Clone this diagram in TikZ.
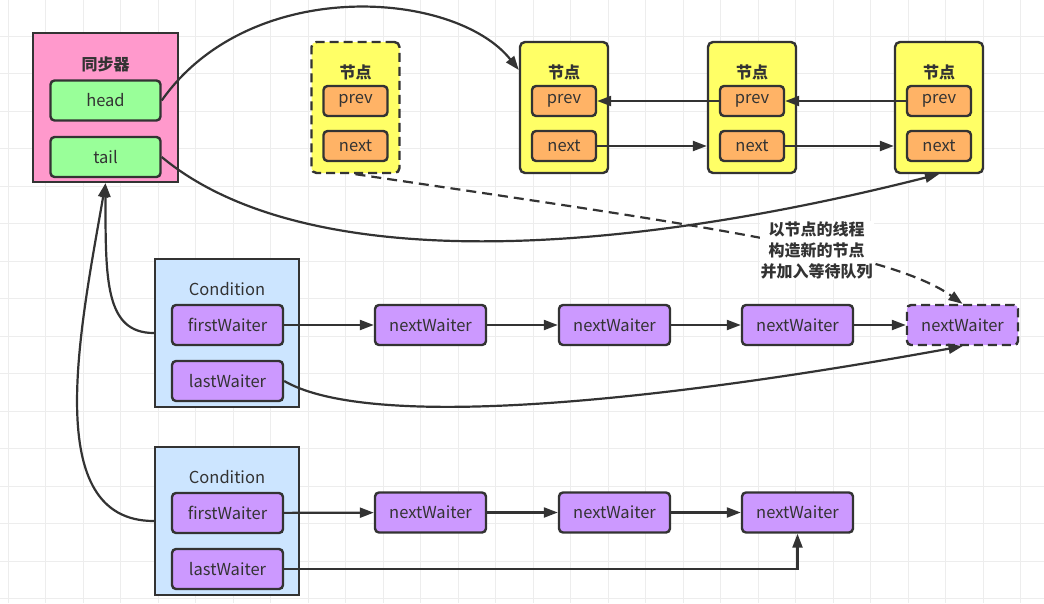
\documentclass[tikz,border=0pt]{standalone}
\usepackage{fontspec}
\setmainfont{Noto Sans CJK SC}
\usetikzlibrary{arrows.meta}
\definecolor{ink}{HTML}{333333}
\definecolor{gridc}{HTML}{EDEDED}
\definecolor{syncc}{HTML}{FF99CC}
\definecolor{ptrc}{HTML}{99FF99}
\definecolor{cardc}{HTML}{FFFF66}
\definecolor{fldc}{HTML}{FFB366}
\definecolor{condc}{HTML}{CCE5FF}
\definecolor{wtrc}{HTML}{CC99FF}
\tikzset{
  frame/.style={draw=ink,line width=2.4pt,inner sep=0pt},
  box/.style={draw=ink,line width=2.4pt,rounded corners=4pt,text=ink,
    font=\fontsize{16.5}{19}\selectfont,inner sep=0pt},
  ptr/.style={box,fill=ptrc,minimum width=110pt,minimum height=40pt},
  fld/.style={box,fill=fldc,minimum width=64pt,minimum height=30pt},
  wtr/.style={box,fill=wtrc,minimum width=111pt,minimum height=40pt},
  card/.style={frame,rounded corners=5pt,fill=cardc,minimum width=88pt,minimum height=131pt},
  hd/.style={text=ink,font=\bfseries\fontsize{16}{19}\selectfont},
  captxt/.style={text=ink,font=\fontsize{16.5}{19}\selectfont},
  link/.style={ink,line width=2.2pt,-{Triangle[length=14pt,width=10pt]}},
  dsh/.style={dash pattern=on 9pt off 5pt}
}
\begin{document}
\begin{tikzpicture}[x=1pt,y=-1pt]
\fill[white] (0,0) rectangle (1044,603);
\useasboundingbox (0,0) rectangle (1044,603);
% grid
\foreach \k in {0,...,27} \draw[gridc,line width=1pt] (8+37.5*\k,0) -- (8+37.5*\k,603);
\foreach \j in {1,...,16} \draw[gridc,line width=1pt] (0,-1.5+37.5*\j) -- (1044,-1.5+37.5*\j);

% synchronizer
\node[frame,fill=syncc,minimum width=145pt,minimum height=149pt] (sync) at (105.5,107.5) {};
\node[hd] (syncT) at (105.5,64) {同步器};
\node[ptr] (head) at (105.5,100.5) {head};
\node[ptr] (tail) at (105.5,157) {tail};

% queue nodes
\foreach \n/\x/\s in {n0/355.5/dsh,n1/564/solid,n2/752/solid,n3/939/solid} {
  \node[card,\s] (\n) at (\x,107.5) {};
  \node[hd] (\n-t) at (\x,72) {节点};
  \node[fld] (\n-p) at (\x,101) {prev};
  \node[fld] (\n-x) at (\x,146) {next};
}

% conditions
\foreach \c/\y in {c1/333,c2/521} {
  \node[frame,fill=condc,minimum width=144pt,minimum height=148pt] (\c) at (227,\y) {};
  \node[captxt] (\c-t) at (227,\y-44) {Condition};
  \node[wtr] (\c-f) at (227.5,\y-8) {firstWaiter};
  \node[wtr] (\c-l) at (227.5,\y+48) {lastWaiter};
}
\foreach \w/\x in {w11/430.5,w12/614.5,w13/797.5} \node[wtr] (\w) at (\x,325) {nextWaiter};
\node[wtr,dsh] (w14) at (962.5,325) {nextWaiter};
\foreach \w/\x in {w21/430.5,w22/614.5,w23/797.5} \node[wtr] (\w) at (\x,512.5) {nextWaiter};

% links between queue nodes
\draw[link] (n3-p) -- (n2-p);
\draw[link] (n2-p) -- (n1-p);
\draw[link] (n1-x.east) -- (n1-x.east -| n2.west);
\draw[link] (n2-x.east) -- (n2-x.east -| n3.west);
\draw[link] (head.east) .. controls (250,-25) and (455,-10) .. ([yshift=37.5pt]n1.west);
\draw[link] (tail.east) .. controls (300,272) and (600,260) .. (n3.south);
\draw[link,dash pattern=on 10pt off 6pt] (n0.south) .. controls (700,225) and (890,252) ..
  node[pos=0.6,fill=white,align=center,inner sep=1pt,hd,font=\bfseries\fontsize{16}{21}\selectfont] (note)
  {以节点的线程\\构造新的节点\\并加入等待队列} (w14.north);

% waiter chains
\draw[link] (c1-f) -- (w11);
\draw[link] (w11) -- (w12);
\draw[link] (w12) -- (w13);
\draw[link] (w13) -- (w14);
\draw[link] (c1-l.east) .. controls (360,425) and (600,412) .. (w14.south);
\draw[link] (c2-f) -- (w21);
\draw[link] (w21) -- (w22);
\draw[link] (w22) -- (w23);
\draw[link] (c2-l.east) -| (w23.south);

% conditions back to synchronizer
\draw[link] (c1.west) .. controls (105,333) and (105.5,280) .. (sync.south);
\draw[link] (c2.west) .. controls (40,521) and (80,330) .. (sync.south);
\end{tikzpicture}
\end{document}
